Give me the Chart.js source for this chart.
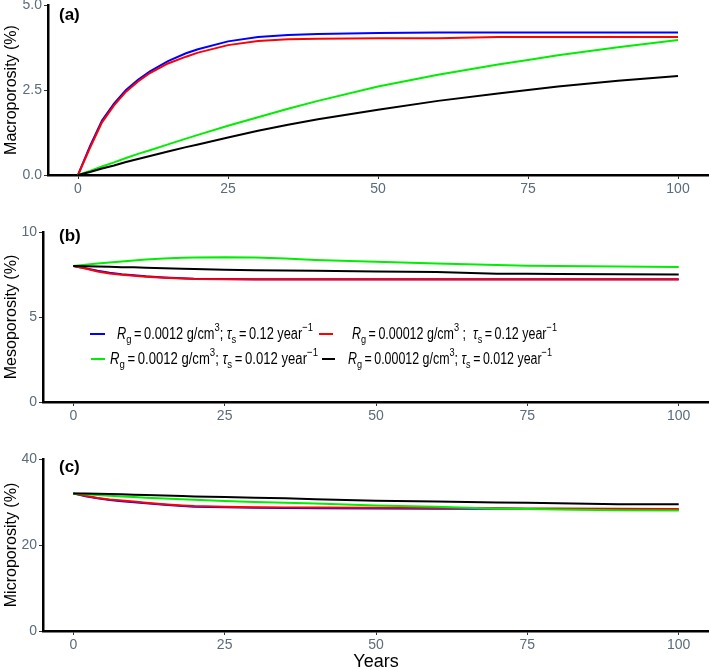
<!DOCTYPE html>
<html>
<head>
<meta charset="utf-8">
<script src="https://cdn.jsdelivr.net/npm/chart.js@4"></script>
<style>
  html, body { margin: 0; padding: 0; background: #fff; overflow: hidden; }
  #wrap { position: relative; width: 709px; height: 670px; overflow: hidden; }
  .pane { position: absolute; left: 0; width: 709px; }
</style>
</head>
<body>
<div id="wrap">
  <div class="pane" style="top:0;height:215px"><canvas id="ca"></canvas></div>
  <div class="pane" style="top:215px;height:225px"><canvas id="cb"></canvas></div>
  <div class="pane" style="top:440px;height:233px"><canvas id="cc"></canvas></div>
</div>
<script>
// ---------------- DATA ----------------
const years = [0, 2, 4, 6, 8, 10, 12, 15, 18, 20, 25, 30, 35, 40, 50, 60, 70, 75, 80, 90, 100];
const xTicks = [0, 25, 50, 75, 100];

// (a) Macroporosity (%)
const macroBlue  = [0, 0.85, 1.6, 2.1, 2.5, 2.8, 3.05, 3.35, 3.58, 3.7, 3.93, 4.06, 4.12, 4.15, 4.18, 4.19, 4.19, 4.19, 4.19, 4.19, 4.19];
const macroRed   = [0, 0.8, 1.55, 2.05, 2.45, 2.75, 3.0, 3.28, 3.48, 3.6, 3.82, 3.94, 3.99, 4.01, 4.02, 4.02, 4.06, 4.06, 4.06, 4.06, 4.06];
const macroGreen = [0, 0.12, 0.25, 0.37, 0.5, 0.62, 0.73, 0.9, 1.07, 1.18, 1.45, 1.7, 1.95, 2.18, 2.6, 2.95, 3.25, 3.38, 3.52, 3.76, 3.97];
const macroBlack = [0, 0.09, 0.19, 0.28, 0.38, 0.47, 0.56, 0.69, 0.82, 0.9, 1.1, 1.3, 1.48, 1.64, 1.92, 2.18, 2.4, 2.5, 2.6, 2.77, 2.91];
const macroTicks = [0, 2.5, 5];

// (b) Mesoporosity (%)
const mesoBlue  = [8.0, 7.87, 7.72, 7.6, 7.51, 7.45, 7.39, 7.33, 7.28, 7.25, 7.23, 7.22, 7.22, 7.22, 7.22, 7.22, 7.22, 7.22, 7.22, 7.22, 7.22];
const mesoRed   = [8.0, 7.85, 7.68, 7.56, 7.48, 7.42, 7.37, 7.31, 7.27, 7.24, 7.22, 7.21, 7.21, 7.21, 7.21, 7.21, 7.21, 7.21, 7.21, 7.21, 7.21];
const mesoGreen = [8.0, 8.07, 8.14, 8.2, 8.27, 8.33, 8.38, 8.44, 8.48, 8.5, 8.52, 8.5, 8.44, 8.36, 8.25, 8.15, 8.06, 8.02, 8.0, 7.97, 7.94];
const mesoBlack = [8.0, 7.99, 7.97, 7.95, 7.93, 7.92, 7.9, 7.87, 7.84, 7.82, 7.78, 7.75, 7.74, 7.72, 7.68, 7.64, 7.55, 7.54, 7.53, 7.51, 7.5];
const mesoTicks = [0, 5, 10];

// (c) Microporosity (%)
const microBlue  = [32, 31.35, 30.85, 30.45, 30.2, 29.95, 29.7, 29.35, 29.05, 28.9, 28.75, 28.65, 28.6, 28.55, 28.5, 28.45, 28.45, 28.4, 28.35, 28.3, 28.25];
const microRed   = [32, 31.45, 30.95, 30.6, 30.35, 30.1, 29.85, 29.5, 29.2, 29.05, 28.9, 28.8, 28.75, 28.7, 28.65, 28.6, 28.55, 28.5, 28.5, 28.45, 28.4];
const microGreen = [32, 31.8, 31.6, 31.45, 31.3, 31.15, 31.0, 30.8, 30.62, 30.53, 30.25, 30.0, 29.8, 29.63, 29.17, 28.9, 28.45, 28.35, 28.25, 28.1, 28.0];
const microBlack = [32, 31.95, 31.9, 31.85, 31.8, 31.7, 31.6, 31.5, 31.4, 31.3, 31.15, 31.0, 30.85, 30.65, 30.3, 30.1, 29.9, 29.8, 29.7, 29.5, 29.45];
const microTicks = [0, 20, 40];

// legend labels: [Rg value, tau value]
const legendRg  = ['0.0012', '0.00012', '0.0012', '0.00012'];
const legendTau = ['0.12', '0.12', '0.012', '0.012'];
const seriesColors = ['#0000ff', '#ff0000', '#00ee00', '#000000'];

// ---------------- DRAWING ----------------
const FONT = "'Liberation Sans', Arial, sans-serif";
const TICK_COLOR = '#5c6b7a';
const TS = '\u2009';

function pts(vals) { return vals.map((v, i) => ({ x: years[i], y: v })); }

function makeDatasets(b, r, g, k) {
  return [b, r, g, k].map((vals, i) => ({
    data: pts(vals),
    borderColor: seriesColors[i],
    backgroundColor: seriesColors[i],
    borderWidth: 2,
    pointRadius: 0,
    tension: 0,
    fill: false,
    order: 4 - i
  }));
}

function partFont(p, size) {
  const s = (p.sub || p.sup) ? size * 0.74 : size;
  return (p.it ? 'italic ' : '') + s.toFixed(1) + 'px ' + FONT;
}

function richWidth(ctx, parts, size) {
  let w = 0;
  for (const p of parts) {
    ctx.font = partFont(p, size);
    w += ctx.measureText(p.t).width;
  }
  return w;
}

function drawRich(ctx, x, y, parts, size, targetW) {
  const natural = richWidth(ctx, parts, size);
  const sx = targetW / natural;
  ctx.save();
  ctx.translate(x, y);
  ctx.scale(sx, 1);
  let cx = 0;
  ctx.textBaseline = 'middle';
  ctx.textAlign = 'left';
  for (const p of parts) {
    ctx.font = partFont(p, size);
    let dy = 0;
    if (p.sub) dy = size * 0.32;
    if (p.sup) dy = -size * 0.45;
    ctx.fillStyle = '#000';
    ctx.fillText(p.t, cx, dy);
    cx += ctx.measureText(p.t).width;
  }
  ctx.restore();
}

function legendParts(i, spaced) {
  return [
    { t: 'R', it: true }, { t: 'g', sub: true },
    { t: TS + '=' + TS + legendRg[i] + ' g/cm' }, { t: '3', sup: true },
    { t: spaced ? ' ;  ' : '; ' },
    { t: 'τ', it: true }, { t: 's', sub: true },
    { t: TS + '=' + TS + legendTau[i] + ' year' }, { t: '−1', sup: true }
  ];
}

function panelLabelPlugin(label, y) {
  return {
    id: 'plabel' + label,
    afterDraw(chart) {
      const ctx = chart.ctx;
      ctx.save();
      ctx.font = 'bold 17px ' + FONT;
      ctx.fillStyle = '#000';
      ctx.textBaseline = 'middle';
      ctx.textAlign = 'left';
      ctx.fillText(label, 59, y);
      ctx.restore();
    }
  };
}

const legendPlugin = {
  id: 'mathLegend',
  afterDraw(chart) {
    const ctx = chart.ctx;
    ctx.save();
    // [lineX0, lineX1, textX, rowY, textWidth]
    const items = [
      [90, 105, 117, 119, 196],
      [319, 333, 352, 119, 205],
      [91, 105, 110, 144, 208],
      [322, 335, 348, 144, 204]
    ];
    items.forEach((it, i) => {
      ctx.strokeStyle = seriesColors[i];
      ctx.lineWidth = 2;
      ctx.beginPath();
      ctx.moveTo(it[0], it[3]);
      ctx.lineTo(it[1], it[3]);
      ctx.stroke();
      drawRich(ctx, it[2], it[3] + 1, legendParts(i, i === 1), 16, it[4]);
    });
    ctx.restore();
  }
};

function makeChart(id, datasets, yMin, yMax, yTicks, yTitle, opts) {
  const ctx = document.getElementById(id);
  return new Chart(ctx, {
    type: 'line',
    data: { datasets },
    plugins: opts.plugins,
    options: {
      responsive: true,
      maintainAspectRatio: false,
      animation: false,
      events: [],
      layout: { padding: { top: opts.padTop, right: opts.padRight, left: 0, bottom: 0 } },
      plugins: { legend: { display: false }, tooltip: { enabled: false } },
      scales: {
        x: {
          type: 'linear',
          min: -5, max: 105,
          afterBuildTicks: s => { s.ticks = xTicks.map(v => ({ value: v })); },
          afterFit: s => { s.height = opts.xHeight; s.paddingLeft = 0; s.paddingRight = 0; s.paddingTop = 0; s.paddingBottom = 0; },
          grid: { display: true, drawOnChartArea: false, drawTicks: true, tickLength: 4, color: '#333', tickWidth: 1 },
          border: { display: true, color: '#000', width: 2.5 },
          ticks: { color: TICK_COLOR, font: { family: FONT, size: 14 }, padding: 2, maxRotation: 0, autoSkip: false },
          title: opts.xTitle ? { display: true, text: opts.xTitle, color: '#000', font: { family: FONT, size: 18 }, padding: { top: 0, bottom: 0 } } : { display: false }
        },
        y: {
          min: yMin, max: yMax,
          afterBuildTicks: s => { s.ticks = yTicks.map(v => ({ value: v })); },
          afterFit: s => { s.width = opts.yWidth; s.paddingLeft = 0; s.paddingRight = 0; s.paddingTop = 0; s.paddingBottom = 0; },
          grid: { display: true, drawOnChartArea: false, drawTicks: true, tickLength: 4, color: '#333', tickWidth: 1 },
          border: { display: true, color: '#000', width: 2.5 },
          ticks: { color: TICK_COLOR, font: { family: FONT, size: 14 }, padding: 2, autoSkip: false,
                   callback: opts.yFmt || (v => String(v)) },
          title: { display: true, text: yTitle, color: '#000', font: { family: FONT, size: 16 }, padding: { top: 2, bottom: 0 } }
        }
      }
    }
  });
}

makeChart('ca', makeDatasets(macroBlue, macroRed, macroGreen, macroBlack), 0, 5, macroTicks, 'Macroporosity (%)',
  { padTop: 5, padRight: 1, xHeight: 40, yWidth: 48, yFmt: v => v.toFixed(1), plugins: [panelLabelPlugin('(a)', 15)] });

makeChart('cb', makeDatasets(mesoBlue, mesoRed, mesoGreen, mesoBlack), 0, 10, mesoTicks, 'Mesoporosity (%)',
  { padTop: 17, padRight: 0, xHeight: 38, yWidth: 43, plugins: [panelLabelPlugin('(b)', 21), legendPlugin] });

makeChart('cc', makeDatasets(microBlue, microRed, microGreen, microBlack), 0, 40, microTicks, 'Microporosity (%)',
  { padTop: 19, padRight: 0, xHeight: 42, yWidth: 43, xTitle: 'Years', plugins: [panelLabelPlugin('(c)', 27)] });
</script>
</body>
</html>
